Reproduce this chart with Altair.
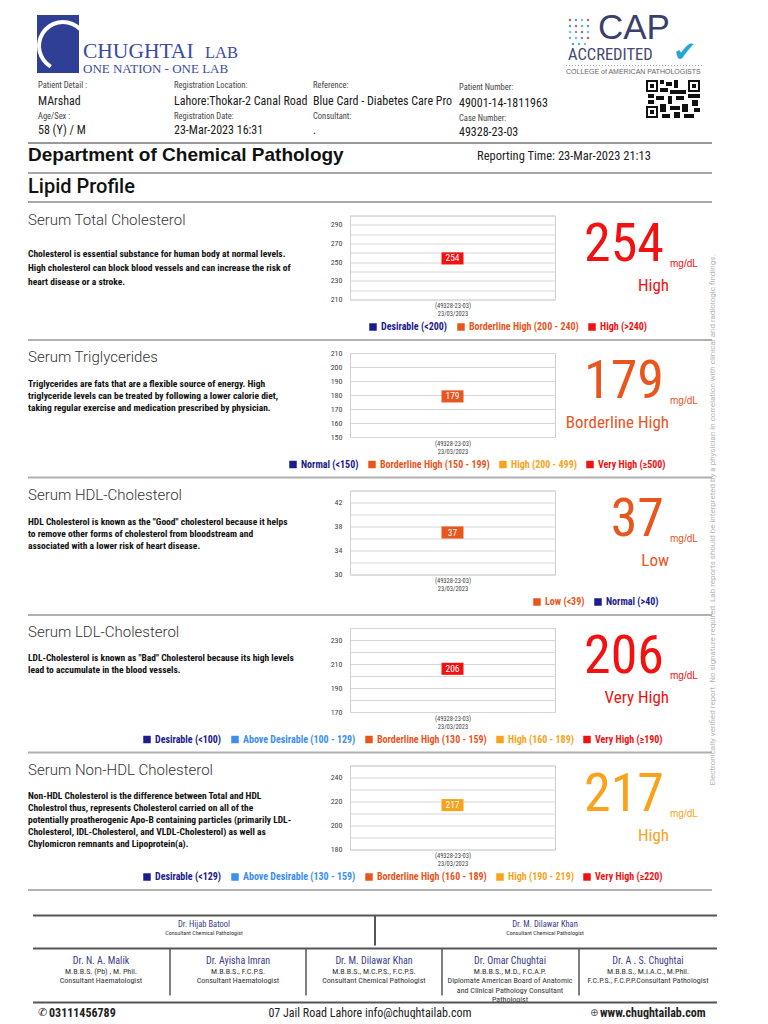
import json
import altair as alt
import pandas as pd

# ---------------- data ----------------
patient_labels = ["Patient Detail :", "Age/Sex :", "Registration Location:", "Registration Date:",
                  "Reference:", "Consultant:", "Patient Number:", "Case Number:"]
patient_values = ["MArshad", "58 (Y) / M", "Lahore:Thokar-2 Canal Road", "23-Mar-2023 16:31",
                  "Blue Card - Diabetes Care Pro", ".", "49001-14-1811963", "49328-23-03"]
lab_name = ["CHUGHTAI", "LAB", "ONE NATION - ONE LAB"]
cap_texts = ["CAP", "ACCREDITED", "\u2714", "COLLEGE of AMERICAN PATHOLOGISTS"]
department = "Department of Chemical Pathology"
reporting_time = "Reporting Time:  23-Mar-2023 21:13"
panel_title = "Lipid Profile"
watermark = ("Electronically verified report. No signature required. Lab reports should be interpreted "
             "by a physician in correlation with clinical and radiologic findings.")

tests = ["Serum Total Cholesterol", "Serum Triglycerides", "Serum HDL-Cholesterol",
         "Serum LDL-Cholesterol", "Serum Non-HDL Cholesterol"]
descriptions = [
    "Cholesterol is essential substance for human body at normal levels.\n"
    "High cholesterol can block blood vessels and can increase the risk of\n"
    "heart disease or a stroke.",
    "Triglycerides are fats that are a flexible source of energy. High\n"
    "triglyceride levels can be treated by following a lower calorie diet,\n"
    "taking regular exercise and medication prescribed by physician.",
    "HDL Cholesterol is known as the \"Good\" cholesterol because it helps\n"
    "to remove other forms of cholesterol from bloodstream and\n"
    "associated with a lower risk of heart disease.",
    "LDL-Cholesterol is known as \"Bad\" Cholesterol because its high levels\n"
    "lead  to accumulate in the blood vessels.",
    "Non-HDL Cholesterol is the difference between Total and HDL\n"
    "Cholestrol thus, represents Cholesterol carried on all of the\n"
    "potentially proatherogenic Apo-B containing particles (primarily LDL-\n"
    "Cholesterol, IDL-Cholesterol, and VLDL-Cholesterol) as well as\n"
    "Chylomicron remnants and Lipoprotein(a).",
]
results = [254, 179, 37, 206, 217]
unit = "mg/dL"
statuses = ["High", "Borderline High", "Low", "Very High", "High"]
sample_label = "(49328-23-03)|23/03/2023"
range_labels = [
    ["Desirable (<200)", "Borderline High (200 - 240)", "High (>240)"],
    ["Normal (<150)", "Borderline High (150 - 199)", "High (200 - 499)", "Very High (\u2265500)"],
    ["Low (<39)", "Normal (>40)"],
    ["Desirable (<100)", "Above Desirable (100 - 129)", "Borderline High (130 - 159)",
     "High (160 - 189)", "Very High (\u2265190)"],
    ["Desirable (<129)", "Above Desirable (130 - 159)", "Borderline High (160 - 189)",
     "High (190 - 219)", "Very High (\u2265220)"],
]
result_class = ["High (>240)", "Borderline High (150 - 199)", "Low (<39)",
                "Very High (\u2265190)", "High (190 - 219)"]
y_domains = [[210, 300], [150, 210], [30, 44], [170, 240], [180, 250]]
grid_values = [
    [210, 220, 230, 240, 250, 260, 270, 280, 290, 300],
    [150, 160, 170, 180, 190, 200, 210],
    [30, 32, 34, 36, 38, 40, 42, 44],
    [170, 180, 190, 200, 210, 220, 230, 240],
    [180, 190, 200, 210, 220, 230, 240, 250],
]
tick_labels = [
    [210, 230, 250, 270, 290],
    [150, 160, 170, 180, 190, 200, 210],
    [30, 34, 38, 42],
    [170, 190, 210, 230],
    [180, 200, 220, 240],
]
signers_top = ["Dr. Hijab Batool", "Dr. M. Dilawar Khan"]
signers_top_role = "Consultant Chemical Pathologist"
doctors = ["Dr. N. A. Malik", "Dr. Ayisha Imran", "Dr. M. Dilawar Khan", "Dr. Omar Chughtai", "Dr. A . S. Chughtai"]
doctor_details = [
    "M.B.B.S. (Pb) , M. Phil.\nConsultant Haematologist",
    "M.B.B.S., F.C.P.S.\nConsultant Haematologist",
    "M.B.B.S., M.C.P.S., F.C.P.S.\nConsultant Chemical Pathologist",
    "M.B.B.S., M.D., F.C.A.P.\nDiplomate American Board of Anatomic\nand Clinical Pathology Consultant\nPathologist",
    "M.B.B.S., M.I.A.C., M.Phil.\nF.C.P.S., F.C.P.P.Consultant Pathologist",
]
contacts = ["\u2706", "03111456789", "07 Jail Road Lahore info@chughtailab.com", "\u2295", "www.chughtailab.com"]

# ---------------- styles ----------------
NARROW = "Liberation Sans Narrow, Roboto Condensed, Liberation Sans, sans-serif"
SANS = "Liberation Sans, Arial, sans-serif"
SERIF = "Liberation Serif, DejaVu Serif, serif"
ROBOTO = "Roboto, sans-serif"
NAVY, BLUE, ORANGE, AMBER, RED = "#1c1c8c", "#3a8ff0", "#e8561e", "#f8a31b", "#f21111"
range_colors = [
    [NAVY, ORANGE, RED],
    [NAVY, ORANGE, AMBER, RED],
    [ORANGE, NAVY],
    [NAVY, BLUE, ORANGE, AMBER, RED],
    [NAVY, BLUE, ORANGE, AMBER, RED],
]
legend_x = [18, -62, 182, -208, -208]
desc_y = [41, 34, 34, 33, 33]
desc_lh = [14, 12, 12, 12, 12]
LINE = "#b0b0b0"
RECT_PATH = "M-1,-0.55H1V0.55H-1Z"

LEFT_W, PLOT_W, RIGHT_W = 342, 205, 205
PLOT_H = 84
SPACING = 53.5
HEADER_H = 153.5
FOOTER_H = 113.5


def one():
    return pd.DataFrame({"a": [0]})


def T(text, x, y, size, font=NARROW, weight="normal", color="#222", align="left",
      baseline="middle", angle=None, line_height=None, clip=False):
    props = dict(font=font, fontSize=size, fontWeight=weight, color=color, align=align, baseline=baseline)
    if angle is not None:
        props["angle"] = angle
    if line_height:
        props["lineHeight"] = line_height
        props["lineBreak"] = "\n"
    if clip:
        props["clip"] = True
    return alt.Chart(pd.DataFrame({"t": [text]})).mark_text(**props).encode(
        x=alt.value(x), y=alt.value(y), text="t:N")


def R(x1, x2, y1, y2, color=LINE, width=2, dash=None):
    props = dict(color=color, strokeWidth=width)
    if dash:
        props["strokeDash"] = dash
    return alt.Chart(one()).mark_rule(**props).encode(
        x=alt.value(x1), x2=alt.value(x2), y=alt.value(y1), y2=alt.value(y2))


def B(x1, y1, x2, y2, color):
    return alt.Chart(one()).mark_rect(color=color).encode(
        x=alt.value(x1), x2=alt.value(x2), y=alt.value(y1), y2=alt.value(y2))


def empty(w, hgt):
    return alt.Chart(one()).mark_rule(opacity=0).encode(
        x=alt.value(0), y=alt.value(0), y2=alt.value(1)).properties(width=w, height=hgt)


# ---------------- header ----------------
h = []
h.append(B(29, 7, 71, 65, "#2f3f95"))
h.append(alt.Chart(one()).mark_arc(radius=26, radius2=22, theta=3.68, theta2=8.48, color="white").encode(
    x=alt.value(55), y=alt.value(38)))
h.append(T(lab_name[0], 75, 50, 21.5, font=SERIF, color="#3a4a9f", baseline="alphabetic"))
h.append(T(lab_name[1], 197, 50, 16.5, font=SERIF, color="#3a4a9f", baseline="alphabetic"))
h.append(T(lab_name[2], 75, 65, 13, font=SERIF, color="#3a4a9f", baseline="alphabetic"))
for (dx, dy, c) in [(0, 0, "#c0392b"), (6, 0, "#2e86c1"), (12, 0, "#5dade2"), (18, 0, "#c0392b"),
                    (0, 6, "#2e86c1"), (6, 6, "#c0392b"), (12, 6, "#1abc9c"), (18, 6, "#2e86c1"),
                    (0, 12, "#5dade2"), (6, 12, "#2e86c1"), (12, 12, "#c0392b"), (18, 12, "#5dade2"),
                    (0, 18, "#1abc9c"), (6, 18, "#5dade2"), (12, 18, "#2e86c1"), (18, 18, "#c0392b"),
                    (3, 24, "#2e86c1"), (9, 24, "#1abc9c"), (15, 24, "#5dade2")]:
    h.append(alt.Chart(one()).mark_point(filled=True, size=6, opacity=0.8, color=c).encode(
        x=alt.value(562 + dx), y=alt.value(12 + dy)))
h.append(T(cap_texts[0], 590, 31, 35, font=SANS, color="#3b3f6b", baseline="alphabetic"))
h.append(T(cap_texts[1], 560, 52, 16.5, font=NARROW, color="#454a6e", baseline="alphabetic"))
h.append(T(cap_texts[2], 665, 53, 28, font="DejaVu Sans", color="#22a6d6", baseline="alphabetic"))
h.append(R(558, 696, 57.5, 57.5, color="#aaaaaa", width=1, dash=[1, 2]))
h.append(T(cap_texts[3], 558, 64, 7, font=SANS, color="#666666"))
h.append(B(638, 72, 692, 110, "#ffffff"))
for qx, qy in [(638, 72), (680, 72), (638, 98)]:
    h.append(B(qx, qy, qx + 12, qy + 12, "#111111"))
    h.append(B(qx + 2, qy + 2, qx + 10, qy + 10, "#ffffff"))
    h.append(B(qx + 4, qy + 4, qx + 8, qy + 8, "#111111"))
for qx1, qy1, qx2, qy2 in [(652, 72, 656, 76), (658, 74, 664, 78), (666, 72, 670, 80), (652, 80, 660, 84),
                           (662, 82, 678, 86), (640, 86, 646, 90), (648, 88, 656, 92), (660, 88, 664, 96),
                           (668, 88, 676, 92), (680, 86, 692, 90), (684, 92, 690, 98), (652, 96, 658, 104),
                           (662, 98, 672, 102), (674, 96, 680, 104), (654, 106, 662, 110), (666, 104, 672, 110),
                           (676, 106, 686, 110), (686, 100, 692, 104), (640, 92, 646, 96)]:
    h.append(B(qx1, qy1, qx2, qy2, "#111111"))
col_x = [30, 166, 305, 451]
for c in range(4):
    dy = 2 if c == 3 else 0
    h.append(T(patient_labels[2 * c], col_x[c], 77 + dy, 8.5, color="#444444"))
    h.append(T(patient_values[2 * c], col_x[c], 93 + dy, 12, color="#1a1a1a"))
    h.append(T(patient_labels[2 * c + 1], col_x[c], 108 + dy, 8.5, color="#444444"))
    h.append(T(patient_values[2 * c + 1], col_x[c], 122 + dy, 12, color="#1a1a1a"))
h.append(R(20, 704, 135, 135, color="#999999", width=2))
h.append(T(department, 20, 147, 19, font=SANS, weight="bold", color="#111111"))
h.append(T(reporting_time, 469, 148, 12.5, color="#222222"))
h.append(R(20, 704, 165, 165, color="#a8a8a8", width=2))
h.append(T(panel_title, 20, 179, 20, font=ROBOTO, weight=500, color="#111111"))
h.append(R(20, 704, 194, 194, color="#a8a8a8", width=2))
h.append(T(watermark, 705, 512, 8, font=ROBOTO, color="#b4b4b4", align="center", angle=270))
header = alt.layer(*h).properties(width=LEFT_W, height=HEADER_H)


# ---------------- sections ----------------
def section(i):
    df = pd.DataFrame({"sample": [sample_label], "value": [results[i]], "cls": [result_class[i]],
                       "unit": [unit], "status": [statuses[i]]})
    scale = alt.Scale(domain=range_labels[i], range=range_colors[i])
    label_color = "{}[indexof({}, datum.label)]".format(
        json.dumps(range_colors[i]), json.dumps(range_labels[i], ensure_ascii=False))
    legend = alt.Legend(orient="none", legendX=legend_x[i], legendY=PLOT_H + 22.5, direction="horizontal",
                        columns=len(range_labels[i]), title=None, symbolType="square", symbolSize=56,
                        symbolStrokeWidth=0, symbolOpacity=1, labelFont=NARROW, labelFontSize=10,
                        labelFontWeight="bold", labelColor={"expr": label_color}, labelOffset=3,
                        columnPadding=8, padding=0, labelLimit=400)
    shown = json.dumps(tick_labels[i])
    base = alt.Chart(df).encode(
        x=alt.X("sample:N", title=None,
                axis=alt.Axis(labelExpr="split(datum.label, '|')", labelAngle=0, labelFontSize=6.5,
                              labelLineHeight=8, labelColor="#444444", ticks=False, domain=False,
                              labelPadding=3, labelFont=NARROW, grid=False)),
        y=alt.Y("value:Q", title=None, scale=alt.Scale(domain=y_domains[i], nice=False, zero=False),
                axis=alt.Axis(values=grid_values[i], labelExpr=f"indexof({shown}, datum.value) >= 0 ? datum.label : ''",
                              grid=True, gridColor="#d6d6d6", gridWidth=1, ticks=False, domain=False,
                              labelFontSize=8, labelColor="#444444", labelPadding=8, labelFont=NARROW,
                              labelOverlap=False)),
    )
    box = base.mark_point(shape=RECT_PATH, filled=True, size=484, opacity=1, strokeWidth=0).encode(
        color=alt.Color("cls:N", scale=scale, legend=legend))
    val = base.mark_text(color="white", fontSize=9.5, font=NARROW).encode(text="value:Q")
    chart = alt.layer(box, val).properties(width=PLOT_W, height=PLOT_H,
                                           view=alt.ViewBackground(stroke="#cfcfcf", strokeWidth=1))

    left = alt.layer(
        T(tests[i], 20, 4, 15, font=ROBOTO, weight=300, color="#333333"),
        T(descriptions[i], 20, desc_y[i], 9.5, weight="bold", color="#111111", baseline="alphabetic",
          line_height=desc_lh[i]),
        R(20, 704, 124.5, 124.5, color=LINE, width=2),
    ).properties(width=LEFT_W, height=PLOT_H)

    col = alt.Color("cls:N", scale=scale, legend=None)
    rbase = alt.Chart(df)
    right = alt.layer(
        rbase.mark_text(font=NARROW, fontSize=54, align="right", baseline="alphabetic").encode(
            x=alt.value(109), y=alt.value(45), text="value:Q", color=col),
        rbase.mark_text(font=SANS, fontSize=10, align="left", baseline="alphabetic").encode(
            x=alt.value(115), y=alt.value(51), text="unit:N", color=col),
        rbase.mark_text(font=NARROW, fontSize=17, align="right", baseline="alphabetic").encode(
            x=alt.value(114), y=alt.value(75), text="status:N", color=col),
    ).properties(width=RIGHT_W, height=PLOT_H)
    return [left, chart, right]


# ---------------- footer ----------------
f = []
f.append(R(25, 709, 12.5, 12.5, color="#555555", width=2))
f.append(R(367, 367, 12.5, 42.5, color="#555555", width=2))
f.append(R(25, 709, 45.5, 45.5, color="#555555", width=2))
for cx, name in zip([196, 537], signers_top):
    f.append(T(name, cx, 20.5, 8.5, color="#3c3c8c", align="center"))
    f.append(T(signers_top_role, cx, 29.5, 6, color="#333333", align="center"))
for vx in [162, 298, 434, 571]:
    f.append(R(vx, vx, 45.5, 92.5, color="#555555", width=1.5))
for cx, name, det in zip([93, 230, 366, 502, 640], doctors, doctor_details):
    f.append(T(name, cx, 57.5, 10, color="#3c3c8c", align="center"))
    f.append(T(det, cx, 70.5, 8, color="#333333", align="center", baseline="alphabetic", line_height=9.5))
f.append(R(25, 709, 99.5, 99.5, color="#555555", width=2))
f.append(T(contacts[0], 30, 110, 11, font="DejaVu Sans", color="#222222"))
f.append(T(contacts[1], 41, 110, 12, color="#222222", weight="bold"))
f.append(T(contacts[2], 362, 110, 12, color="#222222", align="center"))
f.append(T(contacts[3], 582, 110, 10, font="DejaVu Sans", color="#555555"))
f.append(T(contacts[4], 592, 110, 12, color="#222222", weight="bold"))
footer = alt.layer(*f).properties(width=LEFT_W, height=FOOTER_H)

cells = [header, empty(PLOT_W, HEADER_H), empty(RIGHT_W, HEADER_H)]
for i in range(5):
    cells += section(i)
cells += [footer, empty(PLOT_W, FOOTER_H), empty(RIGHT_W, FOOTER_H)]

chart = alt.concat(*cells, columns=3, spacing={"row": SPACING, "column": 0}, bounds="flush").resolve_scale(
    color="independent").resolve_legend(color="independent").properties(padding=0).configure_view(stroke=None)

chart.save("out.html", embed_options={"renderer": "svg", "actions": False})
